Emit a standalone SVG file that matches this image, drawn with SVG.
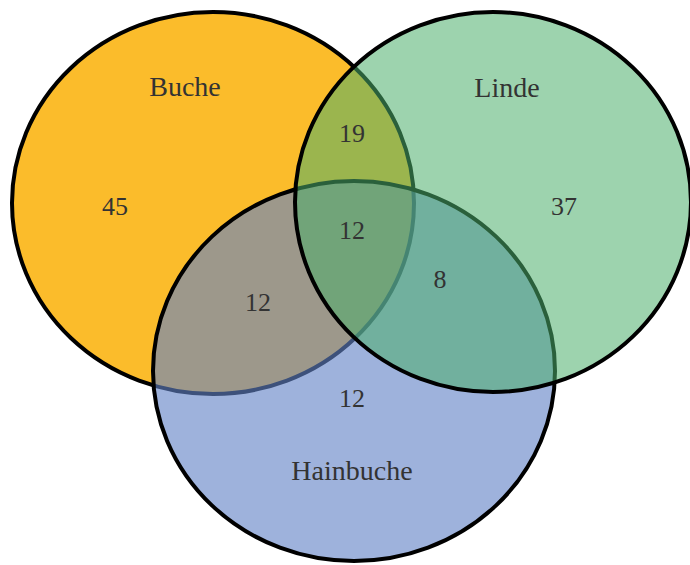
<svg xmlns="http://www.w3.org/2000/svg" width="690" height="565" viewBox="0 0 690 565">
<style>
.set{stroke:#000;stroke-width:4}
.lbl{font-family:"Liberation Serif","Times New Roman",serif;font-size:26px;fill:#333;text-anchor:middle}
.name{font-size:28px}
</style>
<rect width="690" height="565" fill="#fff"/>
<g id="buche">
<ellipse class="set" cx="213" cy="203" rx="201" ry="191" fill="#FBBC2B"/>
<text class="lbl name" x="185" y="96">Buche</text>
</g>
<g id="hainbuche">
<ellipse class="set" cx="354" cy="371" rx="201" ry="190" fill="#6283C6" fill-opacity="0.62"/>
<text class="lbl name" x="352" y="480">Hainbuche</text>
</g>
<g id="linde">
<ellipse class="set" cx="493" cy="202" rx="198" ry="190" fill="#4DAF6C" fill-opacity="0.55"/>
<text class="lbl name" x="507" y="97">Linde</text>
</g>
<g id="counts" class="lbl">
<text x="115" y="215">45</text>
<text x="352" y="142">19</text>
<text x="352" y="239">12</text>
<text x="564" y="215">37</text>
<text x="440" y="288">8</text>
<text x="258" y="311">12</text>
<text x="352" y="407">12</text>
</g>
</svg>
